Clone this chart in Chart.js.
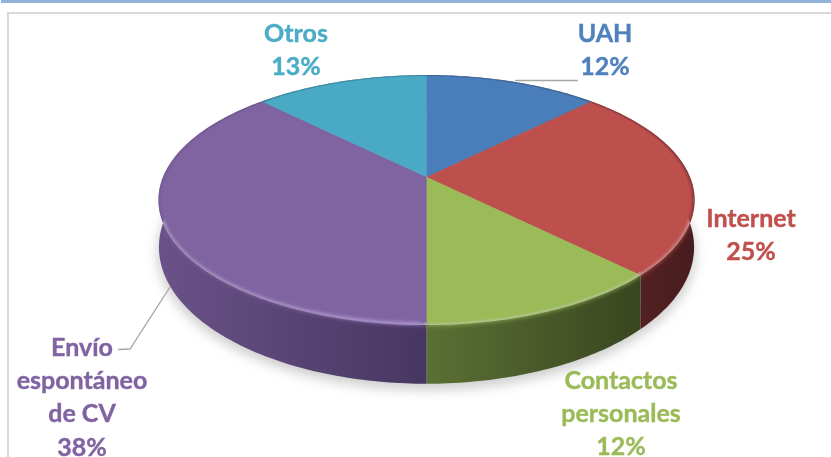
<!DOCTYPE html>
<html>
<head>
<meta charset="utf-8">
<style>
  html, body { margin: 0; padding: 0; background: #fff; overflow: hidden; }
  canvas { display: block; }
</style>
<script src="https://cdn.jsdelivr.net/npm/chart.js@4"></script>
</head>
<body>
<canvas id="myChart" width="831" height="457"></canvas>
<script>
  'use strict';

  // datos
  const categories = ['UAH', 'Internet', 'Contactos personales', 'Envío espontáneo de CV', 'Otros'];
  const shares = [12.5, 25, 12.5, 37.5, 12.5];
  const percentLabels = ['12%', '25%', '12%', '38%', '13%'];
  const labelLines = [['UAH'], ['Internet'], ['Contactos', 'personales'], ['Envío', 'espontáneo', 'de CV'], ['Otros']];

  // estilos
  const faceColors = ['#4a7ebb', '#bd4f4c', '#9bbb59', '#8064a2', '#4aaac6'];
  const textColors = ['#4f81bd', '#c0504d', '#9bbb59', '#8064a2', '#4bacc6'];
  const wallColors = [['#2c4a70', '#2c4a70'], ['#5e2624', '#471c1e'], ['#5b7034', '#39461f'], ['#6a5288', '#463760'], ['#2d6776', '#2d6776']];
  const labelAnchors = [[605, 34], [751, 219], [621, 381], [82, 348], [296, 34]];

  // perspectiva del disco (plano superior e inferior)
  const topPlane = { cx: 426.5, cy: 177, a: 263.5, b: 120.8, k: 0.184 };
  const basePlane = { cx: 426.5, cy: 222, a: 263, b: 132, k: 0.184 };

  function project(plane, angle, scale = 1) {
    const u = Math.cos(angle) * scale;
    const v = Math.sin(angle) * scale;
    const d = 1 - plane.k * v;
    return [plane.cx + plane.a * u / d, plane.cy + plane.b * v / d];
  }

  function traceArc(ctx, plane, from, to, scale = 1, move = false) {
    const steps = Math.max(2, Math.ceil(Math.abs(to - from) * 60));
    for (let i = 0; i <= steps; i++) {
      const p = project(plane, from + (to - from) * i / steps, scale);
      if (i === 0 && move) ctx.moveTo(p[0], p[1]);
      else ctx.lineTo(p[0], p[1]);
    }
  }

  // extremos horizontales de un arco
  function arcExtent(plane, from, to) {
    let min = Infinity;
    let max = -Infinity;
    for (let i = 0; i <= 60; i++) {
      const x = project(plane, from + (to - from) * i / 60)[0];
      min = Math.min(min, x);
      max = Math.max(max, x);
    }
    return [min, max];
  }

  const pie3d = {
    id: 'pie3d',
    beforeDraw(chart) {
      const ctx = chart.ctx;
      ctx.save();
      ctx.fillStyle = '#92b4dc';
      ctx.fillRect(1, 0, 830, 3);
      ctx.fillStyle = '#d9d9d9';
      ctx.fillRect(7, 12, 824, 2);
      ctx.fillRect(7, 12, 2, 445);
      ctx.restore();
    },
    beforeDatasetsDraw(chart) {
      const ctx = chart.ctx;
      const arcs = chart.getDatasetMeta(0).data;

      // sombra
      ctx.save();
      ctx.filter = 'blur(6px)';
      ctx.fillStyle = 'rgba(90,90,90,0.3)';
      ctx.beginPath();
      traceArc(ctx, { ...basePlane, cy: basePlane.cy + 5 }, 0, Math.PI * 2, 1.005, true);
      ctx.closePath();
      ctx.fill();
      ctx.restore();

      // paredes
      arcs.forEach((arc, i) => {
        const ext = arcExtent(basePlane, arc.startAngle, arc.endAngle);
        const grad = ctx.createLinearGradient(ext[0], 0, ext[1], 0);
        grad.addColorStop(0, wallColors[i][0]);
        grad.addColorStop(1, wallColors[i][1]);
        ctx.fillStyle = grad;
        ctx.beginPath();
        traceArc(ctx, topPlane, arc.startAngle, arc.endAngle, 1, true);
        traceArc(ctx, basePlane, arc.endAngle, arc.startAngle);
        ctx.closePath();
        ctx.fill();
      });

      const drawFaces = () => {
        arcs.forEach((arc, i) => {
          ctx.fillStyle = faceColors[i];
          ctx.beginPath();
          ctx.moveTo(topPlane.cx, topPlane.cy);
          traceArc(ctx, topPlane, arc.startAngle, arc.endAngle);
          ctx.closePath();
          ctx.fill();
        });
      };

      // borde difuminado sólo sobre la pared, no hacia el fondo
      ctx.save();
      ctx.beginPath();
      traceArc(ctx, topPlane, 0, Math.PI * 2, 1, true);
      ctx.closePath();
      traceArc(ctx, basePlane, 0, Math.PI * 2, 1, true);
      ctx.closePath();
      ctx.clip();
      ctx.filter = 'blur(2.5px)';
      drawFaces();
      ctx.restore();

      ctx.save();
      ctx.beginPath();
      traceArc(ctx, topPlane, 0, Math.PI * 2, 0.985, true);
      ctx.closePath();
      ctx.clip();
      drawFaces();
      ctx.restore();

      // brillo del borde violeta
      const purple = arcs[3];
      ctx.save();
      ctx.filter = 'blur(1.5px)';
      const rim = ctx.createLinearGradient(160, 0, 427, 0);
      rim.addColorStop(0, 'rgba(166,140,208,0)');
      rim.addColorStop(0.3, 'rgba(166,140,208,0.35)');
      rim.addColorStop(0.7, 'rgba(166,140,208,0.75)');
      rim.addColorStop(1, 'rgba(170,144,214,0.9)');
      ctx.strokeStyle = rim;
      ctx.lineWidth = 2.5;
      ctx.beginPath();
      traceArc(ctx, topPlane, purple.startAngle + 0.02, Math.PI * 1.02, 0.99, true);
      ctx.stroke();
      ctx.restore();

      return false; // no dibujar los arcos planos
    },
    afterDraw(chart) {
      const ctx = chart.ctx;
      ctx.save();

      // líneas guía
      ctx.strokeStyle = '#a6a6a6';
      ctx.lineWidth = 1.3;
      ctx.beginPath();
      ctx.moveTo(515, 80.5);
      ctx.lineTo(578, 80.5);
      ctx.moveTo(118, 349.5);
      ctx.lineTo(130, 349);
      ctx.lineTo(170, 287);
      ctx.stroke();

      // etiquetas
      ctx.font = 'bold 25px Lato';
      ctx.textAlign = 'center';
      ctx.textBaseline = 'middle';
      ctx.lineWidth = 0.4;
      labelLines.forEach((lines, i) => {
        ctx.fillStyle = textColors[i];
        ctx.strokeStyle = textColors[i];
        const rows = lines.concat(percentLabels[i]);
        rows.forEach((row, r) => {
          const y = labelAnchors[i][1] + r * 33.2;
          ctx.fillText(row, labelAnchors[i][0], y);
          ctx.strokeText(row, labelAnchors[i][0], y);
        });
      });
      ctx.restore();
    }
  };

  const ctx = document.getElementById('myChart').getContext('2d');
  const myChart = new Chart(ctx, {
    type: 'pie',
    data: {
      labels: categories,
      datasets: [{
        data: shares,
        backgroundColor: faceColors,
        borderWidth: 0
      }]
    },
    options: {
      responsive: false,
      animation: false,
      plugins: {
        legend: { display: false },
        tooltip: { enabled: false }
      }
    },
    plugins: [pie3d]
  });
</script>
</body>
</html>
